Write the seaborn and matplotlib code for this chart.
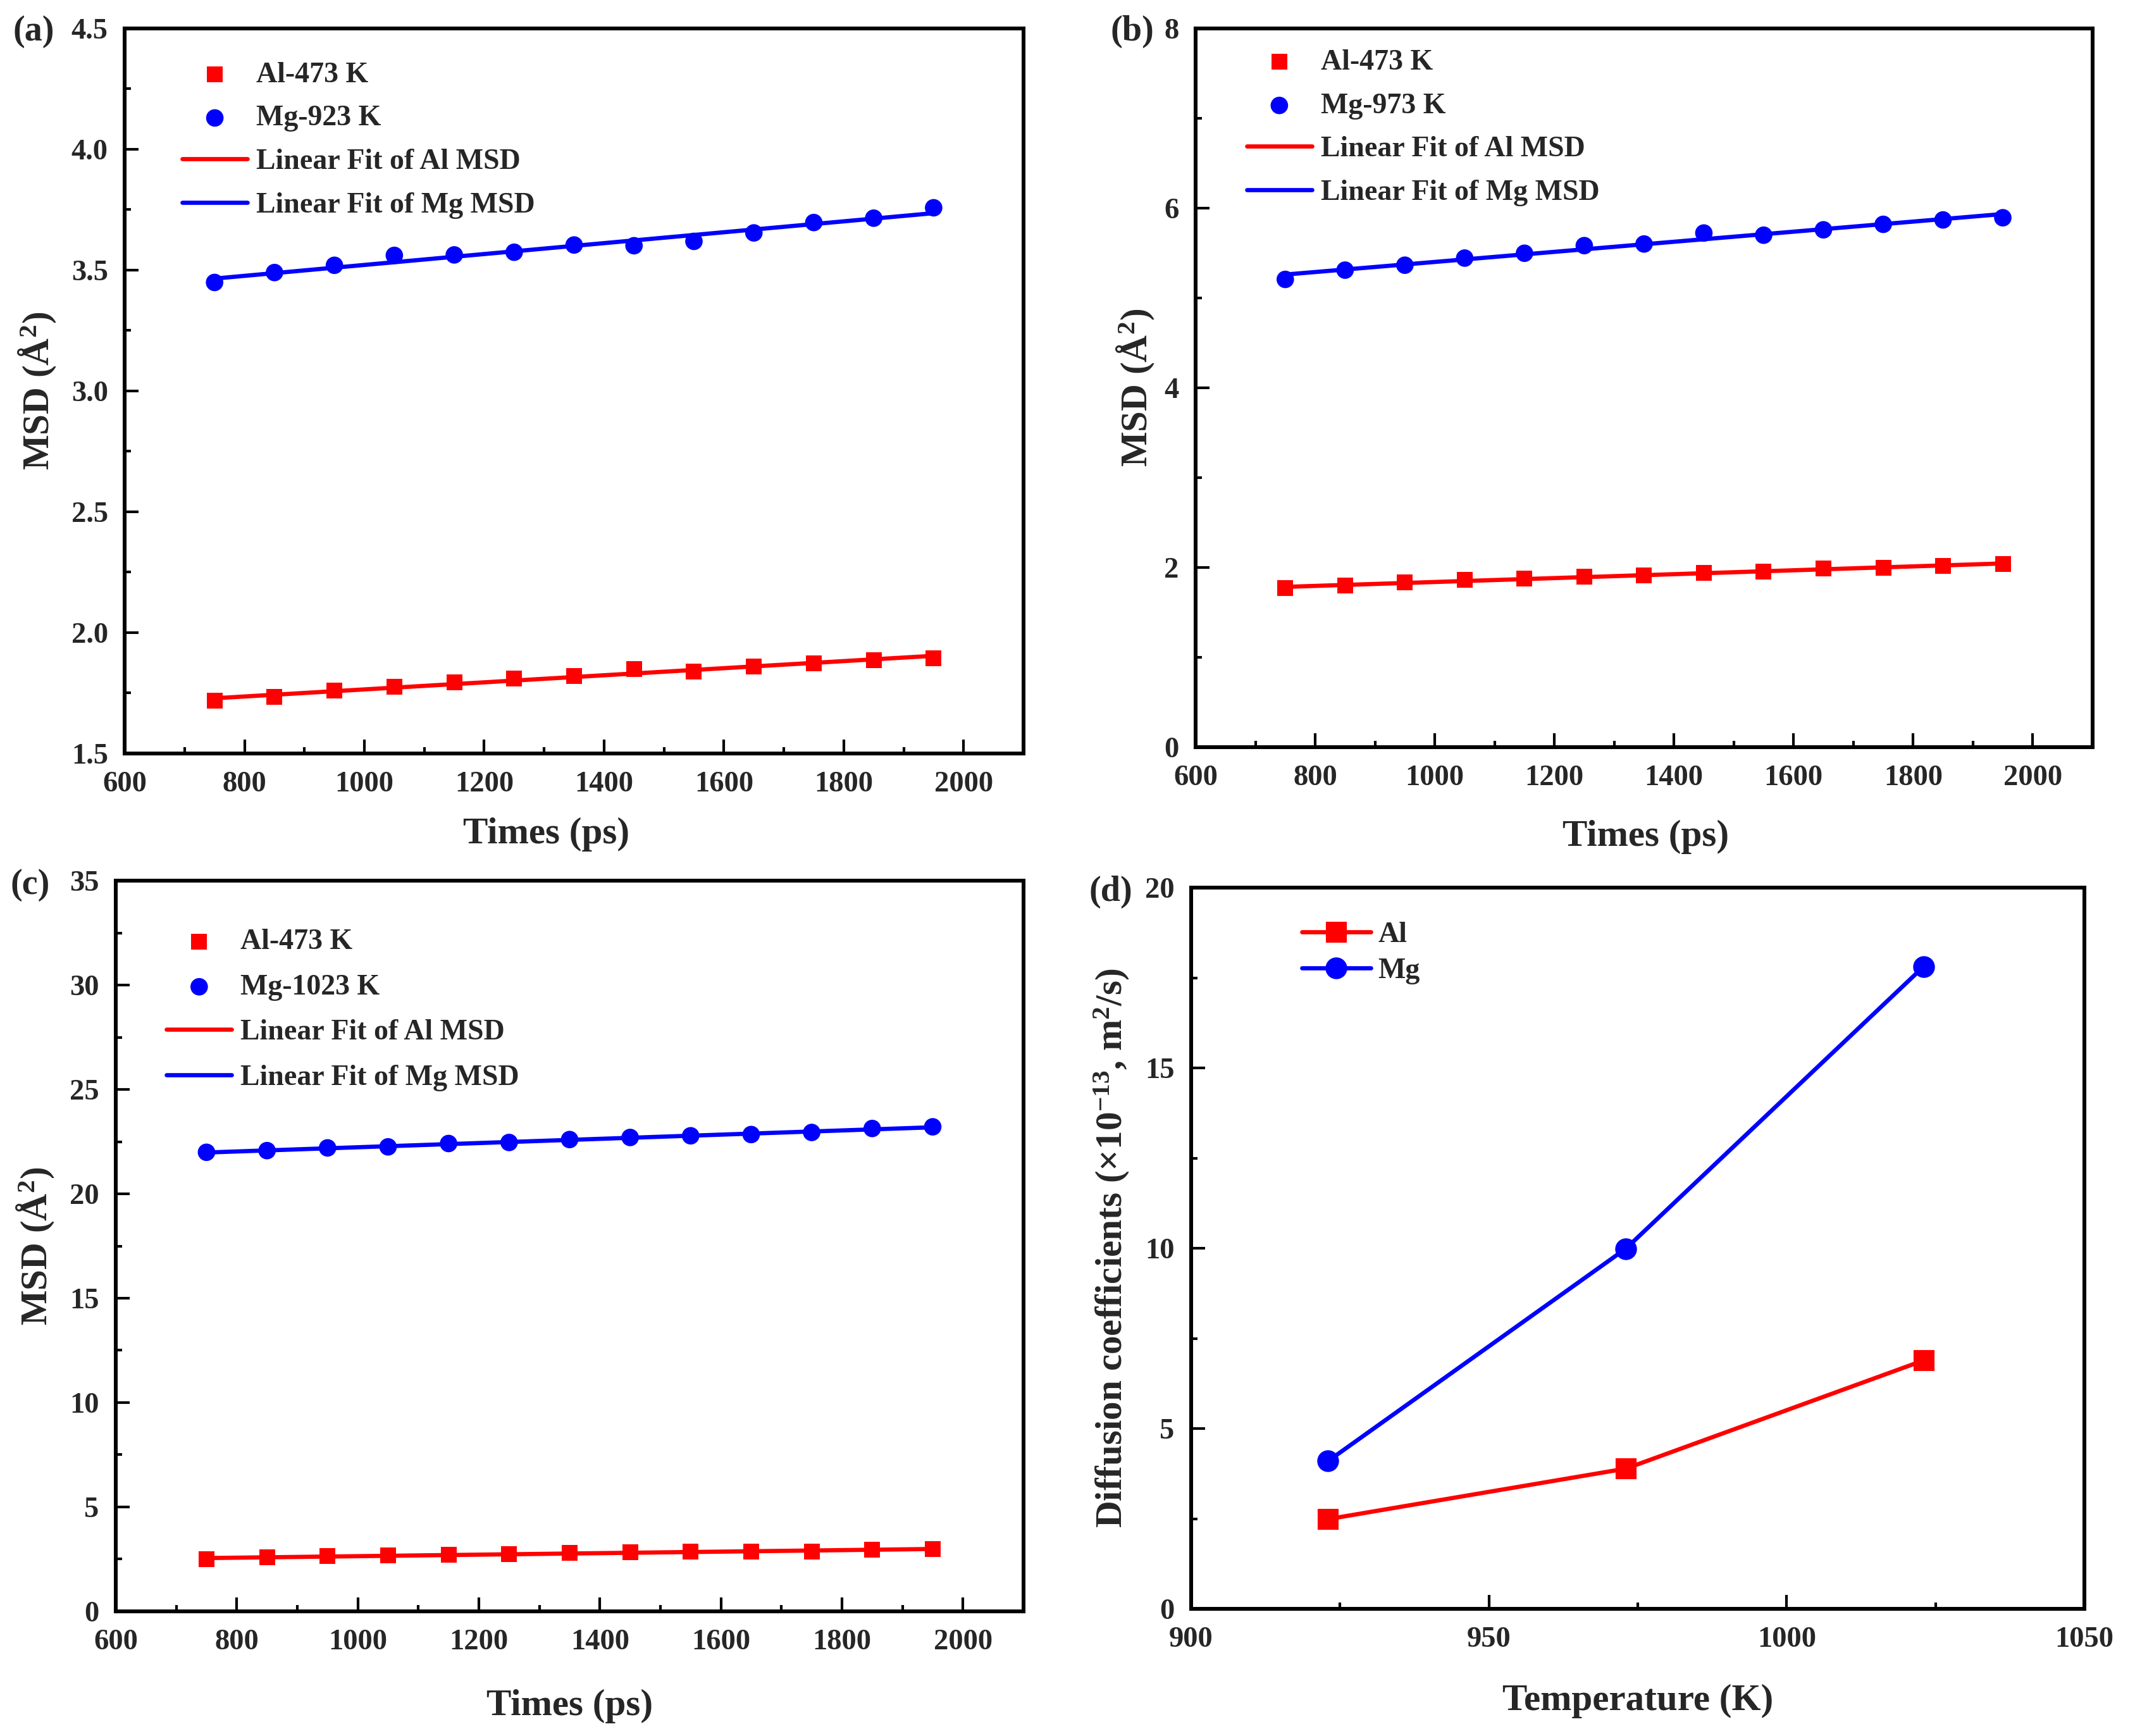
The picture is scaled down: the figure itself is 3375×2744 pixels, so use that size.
import numpy as np
import seaborn as sns
import matplotlib.pyplot as plt

# time points (ps), same for panels a-c
times = [750, 850, 950, 1050, 1150, 1250, 1350, 1450, 1550, 1650, 1750, 1850, 1950]

# (a) Mg at 923 K
al_a = [1.718, 1.734, 1.759, 1.775, 1.793, 1.809, 1.820, 1.850, 1.838, 1.859, 1.874, 1.886, 1.895]
mg_a = [3.449, 3.490, 3.520, 3.561, 3.563, 3.574, 3.604, 3.601, 3.619, 3.654, 3.697, 3.715, 3.758]

# (b) Mg at 973 K
al_b = [1.768, 1.798, 1.835, 1.865, 1.877, 1.896, 1.914, 1.938, 1.956, 1.987, 1.999, 2.017, 2.041]
mg_b = [5.207, 5.310, 5.365, 5.444, 5.498, 5.583, 5.601, 5.723, 5.699, 5.759, 5.820, 5.869, 5.893]

# (c) Mg at 1023 K
al_c = [2.50, 2.58, 2.64, 2.69, 2.71, 2.74, 2.79, 2.82, 2.87, 2.87, 2.87, 2.95, 2.98]
mg_c = [21.99, 22.07, 22.20, 22.25, 22.41, 22.46, 22.60, 22.70, 22.78, 22.84, 22.94, 23.13, 23.21]

# (d) diffusion coefficients
temps = [923, 973, 1023]
d_al = [2.49, 3.89, 6.89]
d_mg = [4.10, 9.99, 17.81]

sns.set_theme(style='ticks')
plt.rcParams['font.family'] = ['Liberation Serif', 'DejaVu Serif']
plt.rcParams['font.weight'] = 'bold'
plt.rcParams['axes.labelweight'] = 'bold'
plt.rcParams['mathtext.fontset'] = 'custom'
plt.rcParams['mathtext.rm'] = 'Liberation Serif:bold'
plt.rcParams['mathtext.it'] = 'Liberation Serif:italic:bold'
plt.rcParams['mathtext.bf'] = 'Liberation Serif:bold'

RED = '#ff0000'
BLUE = '#0000ff'
TICK_FS = 11.2
LABEL_FS = 14.2
LEG_FS = 11

fig = plt.figure(figsize=(11.25, 27.44 / 3))


def style_axes(ax, xlim, xmaj, xmin, ylim, ymaj):
    ax.set_xlim(*xlim)
    ax.set_ylim(*ylim)
    ax.set_xticks(np.arange(xlim[0], xlim[1] - xmaj / 2 + 1e-9, xmaj))
    ax.set_xticks(np.arange(xlim[0], xlim[1] + 1e-9, xmin), minor=True)
    ax.set_yticks(np.arange(ylim[0], ylim[1] + 1e-9, ymaj))
    ax.set_yticks(np.arange(ylim[0], ylim[1] + 1e-9, ymaj / 2), minor=True)
    for s in ax.spines.values():
        s.set_linewidth(1.45)
        s.set_color('black')
    ax.tick_params(which='both', direction='in', width=1.0, color='black',
                   top=False, right=False)
    ax.tick_params(which='major', length=5.2, labelsize=TICK_FS)
    ax.tick_params(which='minor', length=2.4)
    ax.tick_params(axis='x', which='major', pad=6.8)
    ax.tick_params(axis='y', which='major', pad=6.3)


def bold_ticks(ax):
    for lab in ax.get_xticklabels() + ax.get_yticklabels():
        lab.set_fontweight('bold')


def bold_legend(leg):
    for txt in leg.get_texts():
        txt.set_fontweight('bold')


def msd_panel(rect, al, mg, mg_label, ylim, ymaj, fmt, ylab_x, xlab, leg_anchor, leg_sp):
    ax = fig.add_axes(rect)
    sns.scatterplot(x=times, y=al, ax=ax, marker='s', color=RED, s=36,
                    edgecolor='none', label='Al-473 K', zorder=3)
    sns.scatterplot(x=times, y=mg, ax=ax, marker='o', color=BLUE, s=44,
                    edgecolor='none', label=mg_label, zorder=3)
    # linear fits of the MSD data
    t = np.array(times)
    k_al, b_al = np.polyfit(times, al, 1)
    k_mg, b_mg = np.polyfit(times, mg, 1)
    sns.lineplot(x=t, y=k_al * t + b_al, ax=ax, color=RED, linewidth=1.6,
                 label='Linear Fit of Al MSD', zorder=2)
    sns.lineplot(x=t, y=k_mg * t + b_mg, ax=ax, color=BLUE, linewidth=1.6,
                 label='Linear Fit of Mg MSD', zorder=2)
    style_axes(ax, (600, 2100), 200, 100, ylim, ymaj)
    ax.yaxis.set_major_formatter(plt.FormatStrFormatter(fmt))
    bold_ticks(ax)
    ax.set_xlabel('Times (ps)', fontsize=LABEL_FS, fontweight='bold')
    ax.set_ylabel('MSD (Å$^{2}$)', fontsize=LABEL_FS, fontweight='bold')
    ax.yaxis.set_label_coords(ylab_x, 0.5)
    ax.xaxis.set_label_coords(*xlab)
    leg = ax.legend(loc='upper left', bbox_to_anchor=leg_anchor, frameon=False,
                    fontsize=LEG_FS, handlelength=2.25, handletextpad=0.3,
                    labelspacing=leg_sp, borderaxespad=0, borderpad=0)
    bold_legend(leg)
    return ax


ax_a = msd_panel([0.0584, 0.5660, 0.4210, 0.4176], al_a, mg_a, 'Mg-923 K',
                 (1.5, 4.5), 0.5, '%.1f', -0.074, (0.469, -0.088),
                 (0.064, 0.954), 0.58)
ax_b = msd_panel([0.5600, 0.5696, 0.4201, 0.4140], al_b, mg_b, 'Mg-973 K',
                 (0, 8), 2, '%d', -0.044, (0.502, -0.101),
                 (0.057, 0.971), 0.58)
ax_c = msd_panel([0.0542, 0.0718, 0.4252, 0.4209], al_c, mg_c, 'Mg-1023 K',
                 (0, 35), 5, '%d', -0.0655, (0.50, -0.1065),
                 (0.056, 0.934), 0.64)

# (d) diffusion coefficients vs temperature
ax_d = fig.add_axes([0.5579, 0.0732, 0.4184, 0.4155])
sns.lineplot(x=temps, y=d_al, ax=ax_d, color=RED, linewidth=1.6, marker='s',
             markersize=7, markeredgecolor=RED, label='Al')
sns.lineplot(x=temps, y=d_mg, ax=ax_d, color=BLUE, linewidth=1.6, marker='o',
             markersize=7.5, markeredgecolor=BLUE, label='Mg')
style_axes(ax_d, (900, 1050), 50, 25, (0, 20), 5)
ax_d.set_xticks([900, 950, 1000, 1050])
bold_ticks(ax_d)
ax_d.set_xlabel('Temperature (K)', fontsize=LABEL_FS, fontweight='bold')
ax_d.set_ylabel('Diffusion coefficients (×10$^{-13}$, m$^{2}$/s)',
                fontsize=LABEL_FS, fontweight='bold')
ax_d.yaxis.set_label_coords(-0.067, 0.5)
ax_d.xaxis.set_label_coords(0.50, -0.104)
leg = ax_d.legend(loc='upper left', bbox_to_anchor=(0.124, 0.953), frameon=False,
                  fontsize=LEG_FS, handlelength=2.37, handletextpad=0.26,
                  labelspacing=0.33, borderaxespad=0, borderpad=0)
bold_legend(leg)

# panel letters
for lbl, x, y in [('(a)', 0.006, 0.9818), ('(b)', 0.520, 0.9818),
                  ('(c)', 0.005, 0.4902), ('(d)', 0.510, 0.4862)]:
    fig.text(x, y, lbl, fontsize=13.5, fontweight='bold', va='center', ha='left')

fig.savefig('out.png', dpi=300, facecolor='white')
